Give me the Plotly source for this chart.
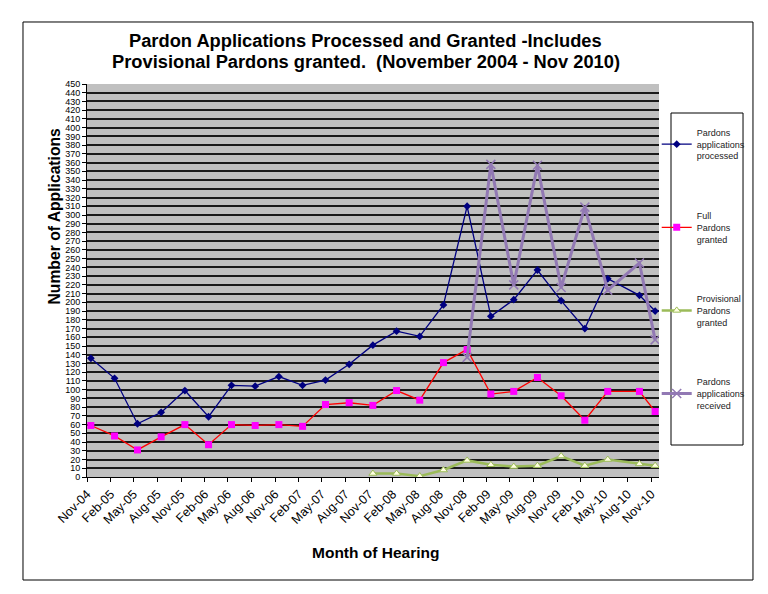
import pandas as pd
import plotly.graph_objects as go

# Hearing months (the Aug-10 hearing sat in Sep-10)
months = ["2004-11", "2005-02", "2005-05", "2005-08", "2005-11", "2006-02", "2006-05",
          "2006-08", "2006-11", "2007-02", "2007-05", "2007-08", "2007-11", "2008-02",
          "2008-05", "2008-08", "2008-11", "2009-02", "2009-05", "2009-08", "2009-11",
          "2010-02", "2010-05", "2010-09", "2010-11"]

tick_months = ["2004-11", "2005-02", "2005-05", "2005-08", "2005-11", "2006-02", "2006-05",
               "2006-08", "2006-11", "2007-02", "2007-05", "2007-08", "2007-11", "2008-02",
               "2008-05", "2008-08", "2008-11", "2009-02", "2009-05", "2009-08", "2009-11",
               "2010-02", "2010-05", "2010-08", "2010-11"]
tick_labels = ["Nov-04", "Feb-05", "May-05", "Aug-05", "Nov-05", "Feb-06", "May-06",
               "Aug-06", "Nov-06", "Feb-07", "May-07", "Aug-07", "Nov-07", "Feb-08",
               "May-08", "Aug-08", "Nov-08", "Feb-09", "May-09", "Aug-09", "Nov-09",
               "Feb-10", "May-10", "Aug-10", "Nov-10"]

processed = [136, 113, 61, 74, 99, 69, 105, 104, 115, 105, 111, 129, 151, 167, 161,
             197, 310, 184, 203, 237, 202, 170, 227, 208, 190]
full_granted = [59, 47, 31, 46, 60, 37, 60, 59, 60, 58, 83, 85, 82, 99, 88,
                131, 146, 95, 98, 114, 93, 65, 98, 98, 75]
provisional = [None] * 12 + [4, 4, 1, 8, 19, 14, 12, 13, 24, 13, 20, 15, 13]
received = [None] * 16 + [137, 358, 220, 357, 217, 309, 214, 245, 157]

title_lines = ["Pardon Applications Processed and Granted -Includes",
               "Provisional Pardons granted.  (November 2004 - Nov 2010)"]

# Excel places points in the middle of each month ("between tick marks")
x_mid = pd.to_datetime(months) + pd.Timedelta(days=15)
tick_vals = pd.to_datetime(tick_months)

FONT = "Arial, Liberation Sans, sans-serif"

fig = go.Figure()
fig.add_trace(go.Scatter(
    x=x_mid, y=processed, mode="lines+markers",
    name="Pardons<br>applications<br>processed", legendgroup="a",
    line=dict(color="#000080", width=1.3),
    marker=dict(symbol="diamond", size=6, color="#000080")))
fig.add_trace(go.Scatter(
    x=x_mid, y=full_granted, mode="lines+markers",
    name="Full<br>Pardons<br>granted", legendgroup="b",
    line=dict(color="#FF0000", width=1.3),
    marker=dict(symbol="square", size=7, color="#FF00FF")))
fig.add_trace(go.Scatter(
    x=x_mid, y=provisional, mode="lines+markers",
    name="Provisional<br>Pardons<br>granted", legendgroup="c",
    line=dict(color="#9BBB59", width=2.5),
    marker=dict(symbol="triangle-up", size=7, color="#FFFFE0",
                line=dict(color="#9BBB59", width=1))))
fig.add_trace(go.Scatter(
    x=x_mid, y=received, mode="lines+markers",
    name="Pardons<br>applications<br>received", legendgroup="d",
    line=dict(color="#9279B4", width=3),
    marker=dict(symbol="x-thin", size=9, color="#9279B4",
                line=dict(color="#9279B4", width=1.5))))

fig.update_layout(
    width=760, height=586,
    margin=dict(l=79, r=109, t=76, b=117),
    paper_bgcolor="white", plot_bgcolor="#C0C0C0",
    font=dict(family=FONT, color="black"),
    showlegend=True,
    legend=dict(x=0.996, xanchor="left", y=0.908, yanchor="top",
                bgcolor="rgba(0,0,0,0)", borderwidth=0,
                font=dict(size=9, family=FONT, color="#222"),
                traceorder="grouped", tracegroupgap=45, itemwidth=30),
    xaxis=dict(type="date", range=["2004-11-01", "2010-12-01"],
               tickvals=tick_vals, ticktext=tick_labels, tickangle=-45,
               tickfont=dict(size=12.5, family=FONT), showgrid=False,
               showline=True, linecolor="black", linewidth=1,
               ticks="outside", ticklen=4, tickcolor="black"),
    yaxis=dict(range=[0, 450], dtick=10, tick0=0,
               tickfont=dict(size=9, family=FONT),
               showgrid=True, gridcolor="#1a1a1a", gridwidth=1.5,
               zeroline=False, showline=True, linecolor="black", linewidth=1,
               ticks="outside", ticklen=4, tickcolor="black"),
    shapes=[
        dict(type="rect", xref="paper", yref="paper",
             x0=-0.1119, x1=1.1643, y0=-0.2621, y1=1.1578,
             line=dict(color="black", width=1), layer="below"),
        dict(type="rect", xref="paper", yref="paper",
             x0=1.021, x1=1.1469, y0=0.0814, y1=0.9262,
             line=dict(color="black", width=1), layer="below"),
    ],
    annotations=[
        dict(text="<b>" + title_lines[0] + "</b>", xref="paper", yref="paper",
             x=(365.5 - 87) / 572, y=(477 - 40) / 393, showarrow=False,
             font=dict(size=18.3, family=FONT, color="black"),
             xanchor="center", yanchor="middle"),
        dict(text="<b>" + title_lines[1] + "</b>", xref="paper", yref="paper",
             x=(366 - 87) / 572, y=(477 - 61) / 393, showarrow=False,
             font=dict(size=18.3, family=FONT, color="black"),
             xanchor="center", yanchor="middle"),
        dict(text="<b>Number of Applications</b>", xref="paper", yref="paper",
             x=(53.5 - 87) / 572, y=(477 - 216) / 393, textangle=-90,
             showarrow=False, font=dict(size=15.7, family=FONT, color="black"),
             xanchor="center", yanchor="middle"),
        dict(text="<b>Month of Hearing</b>", xref="paper", yref="paper",
             x=(375 - 87) / 572, y=(477 - 552) / 393,
             showarrow=False, font=dict(size=15.5, family=FONT, color="black"),
             xanchor="center", yanchor="middle"),
    ],
)

fig.write_html("out.html")
